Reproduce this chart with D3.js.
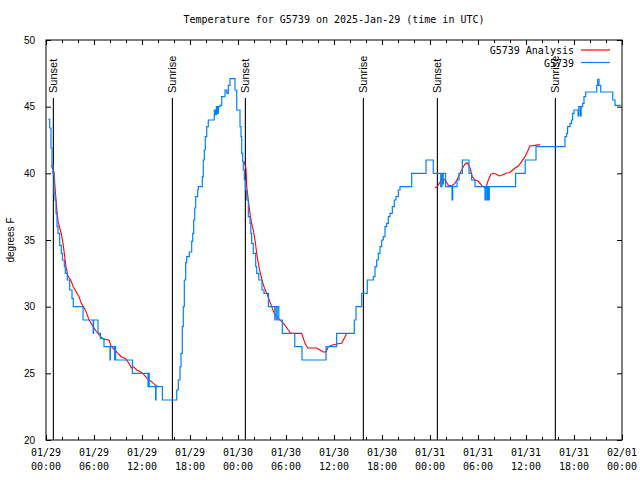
<!DOCTYPE html>
<html>
<head>
<meta charset="utf-8">
<script src="https://cdnjs.cloudflare.com/ajax/libs/d3/7.8.5/d3.min.js"></script>
<style>
  body { margin: 0; background: #fff; }
  svg { display: block; }
</style>
</head>
<body>
<svg id="chart"></svg>
<script>
const svg = d3.select("#chart")
    .attr("width", 640)
    .attr("height", 480);

const startTime = Date.UTC(2025, 0, 29, 0, 0);
const hourMs = 3600 * 1000;

// observations: [hours since 01/29 00:00 UTC, deg F]
const obsData = [
    [0.29,44.05],[0.46,43.4],[0.625,41.9],[0.75,40.6],[0.875,40],[1.0,38.5],[1.125,38],[1.25,37],[1.375,36],
    [1.5,35.5],[1.71,34.6],[1.91,34],[2.06,33.5],[2.29,33],[2.41,32.5],[2.66,32],[2.96,31.25],[3.25,30.6],
    [3.41,30],[4.625,29],[5.9,28],[5.95,29],[6.5,28],[6.8,27.6],[7.25,27],[8.0,26],[8.05,27],[8.58,26],
    [8.63,27],[8.7,26],[10.8,25],[12.75,24],[12.8,25],[12.9,24],[13.7,23],[13.75,24],[14.55,23],
    [16.34,23.75],[16.54,24.5],[16.75,25.5],[16.875,26.5],[17.04,28.5],[17.16,30],[17.29,32],[17.46,33.3],
    [17.59,33.75],[17.91,34.1],[18.21,34.9],[18.34,35.5],[18.46,36.5],[18.59,37.4],[18.71,38.25],
    [18.96,38.75],[19.04,39],[19.54,39.75],[19.66,41],[19.79,41.75],[19.91,42.75],[20.09,43.5],[20.29,44],
    [21.04,44.75],[21.2,44.4],[21.3,45],[21.45,44.5],[21.55,45],[21.75,45.1],[21.96,45.75],[22.375,46.25],
    [22.6,46],[22.79,46.6],[23.0,47.1],[23.625,46.25],[23.84,44.75],[24.25,43.5],[24.375,42.75],
    [24.46,41.5],[24.59,40.9],[24.66,40.25],[24.79,39.5],[24.92,38.75],[25.09,38],[25.29,36.75],
    [25.5,36.25],[25.6,35.5],[25.71,34.75],[25.91,34],[26.21,33],[26.34,32.5],[26.6,32],[27.0,31.25],
    [27.25,31],[27.8,30],[28.6,29],[28.65,30],[28.85,29],[28.9,30],[29.1,29],[29.54,28],[31.1,27],[32,26],
    [35,27],[36.33,28],[38.54,29],[38.75,30],[39.46,31],[40.16,32],[40.92,32.25],[41.125,33],[41.33,33.5],
    [41.54,34],[41.75,34.5],[41.96,35],[42.16,35.25],[42.375,36],[42.58,36.25],[42.79,36.75],[43.0,37],
    [43.29,37.5],[43.54,38],[43.75,38.25],[44.04,38.75],[44.25,39],[45.71,40],[47.5,41],[48.41,40],
    [49.34,39],[49.5,40],[49.58,39.2],[49.66,40],[49.96,39],[50.75,38],[50.84,39],[51.375,39.5],
    [51.625,40],[52.04,41],[52.875,40],[53.2,39.5],[53.625,39],[54.875,38],[54.96,39],[55.125,38],
    [55.2,39],[55.3,38],[55.41,39],[58.7,40],[59.9,41],[61.25,42],[64.875,42.75],[65.08,43],[65.2,43.5],
    [65.5,43.75],[65.7,44],[65.83,44.5],[66.0,44.75],[66.5,44.3],[66.6,45],[66.8,44.3],[66.9,45],
    [67.08,45.25],[67.25,45.75],[67.46,46.1],[68.84,46.6],[68.96,47.05],[69.125,46.6],[69.34,46.1],
    [70.84,45.5],[71.125,45.1],[71.85,45.1]
];

// analysis, null = gap between runs
const analysisData = [
    [0.66,40.6],[1.0,40.1],[1.125,39],[1.29,37.75],[1.5,36.4],[1.71,35.9],[1.91,35.5],[2.125,34.75],
    [2.34,33.75],[2.5,33],[2.75,32.3],[3.09,32],[3.41,31.5],[3.79,31.1],[4.125,30.75],[4.41,30.25],
    [4.75,29.95],[5.09,29.5],[5.375,29],[5.79,28.6],[6.34,28.1],[6.84,27.75],[7.25,27.55],[7.875,27.5],
    [8.09,27.1],[8.5,26.8],[8.91,26.55],[9.41,26.25],[9.96,26.1],[10.375,25.75],[10.66,25.4],[10.91,25.5],
    [11.34,25.25],[11.84,25.1],[12.25,24.9],[12.66,24.6],[13.16,24.4],[13.71,24.1],[13.91,24.05],
    null,
    [24.75,40.9],[25.0,40.4],[25.09,39],[25.29,38],[25.5,37],[25.71,36.25],[25.91,35.75],[26.125,35],
    [26.34,34],[26.54,33.25],[26.75,32.6],[27.0,32],[27.25,31.5],[27.59,31],[27.91,30.5],[28.21,30],
    [28.54,29.5],[29.04,29.1],[29.46,28.9],[29.875,28.6],[30.29,28.25],[30.59,28],[31.96,28],[32.375,27.25],
    [32.71,26.9],[33.84,26.9],[34.25,26.75],[34.66,26.6],[35.0,26.6],[35.29,27],[35.71,27.1],[36.34,27.2],
    [36.96,27.25],[37.25,27.6],[37.59,28],
    null,
    [48.625,38.9],[48.91,39],[49.16,39.25],[49.46,39.55],[49.75,39.55],[50.0,39.4],[50.29,39.1],
    [50.71,39.05],[51.125,39.25],[51.41,39.55],[51.75,40],[52.09,40.4],[52.375,40.7],[52.66,40.8],
    [53.0,40.4],[53.29,39.75],[53.625,39.5],[54.04,39.4],[54.46,39.1],[54.875,38.9],[55.09,39.1],
    [55.29,39.5],[55.59,39.9],[55.84,40],[56.25,39.95],[56.66,39.8],[57.09,39.9],[57.5,40],[57.91,40.05],
    [58.34,40.25],[58.625,40.4],[59.04,40.55],[59.46,40.9],[59.875,41.25],[60.16,41.6],[60.5,42.05],
    [61.125,42.1],[61.75,42.15]
];

const sunEvents = ["Sunset", "Sunrise", "Sunset", "Sunrise", "Sunset", "Sunrise"];
const sunHours = [0.92, 15.8, 24.92, 39.67, 48.92, 63.67];

const yTicks = [20, 25, 30, 35, 40, 45, 50];
const seriesNames = ["G5739 Analysis", "G5739"];
const seriesColors = ["#ff0000", "#0080ff"];

const plotLeft = 46, plotRight = 622, plotTop = 40, plotBottom = 440;
const toDate = h => new Date(startTime + h * hourMs);

const x = d3.scaleUtc()
    .domain([toDate(0), toDate(72)])
    .range([plotLeft, plotRight]);
const y = d3.scaleLinear()
    .domain([20, 50])
    .range([plotBottom, plotTop]);

const mono = "'DejaVu Sans Mono', monospace";
const sans = "'Liberation Sans', Arial, sans-serif";

// title
svg.append("text")
    .attr("x", 334)
    .attr("y", 23)
    .attr("text-anchor", "middle")
    .style("font-family", mono)
    .style("font-size", "10px")
    .text("Temperature for G5739 on 2025-Jan-29 (time in UTC)");

const majorTicks = d3.range(0, 73, 6).map(toDate);
const minorTicks = d3.range(0, 73, 2).filter(h => h % 6 != 0).map(toDate);

function styleAxis(g) {
    g.select(".domain").remove();
    g.selectAll("line").attr("stroke", "black").attr("stroke-width", 1);
}

// bottom / top axes
svg.append("g")
    .attr("transform", `translate(0,${plotBottom})`)
    .call(d3.axisBottom(x).tickValues(majorTicks).tickSizeInner(-5).tickSizeOuter(0).tickFormat(""))
    .call(styleAxis);
svg.append("g")
    .attr("transform", `translate(0,${plotBottom})`)
    .call(d3.axisBottom(x).tickValues(minorTicks).tickSizeInner(-3).tickSizeOuter(0).tickFormat(""))
    .call(styleAxis);
svg.append("g")
    .attr("transform", `translate(0,${plotTop})`)
    .call(d3.axisTop(x).tickValues(majorTicks).tickSizeInner(-5).tickSizeOuter(0).tickFormat(""))
    .call(styleAxis);
svg.append("g")
    .attr("transform", `translate(0,${plotTop})`)
    .call(d3.axisTop(x).tickValues(minorTicks).tickSizeInner(-3).tickSizeOuter(0).tickFormat(""))
    .call(styleAxis);

// two-line time labels
const fmtDay = d3.utcFormat("%m/%d");
const fmtTime = d3.utcFormat("%H:%M");
const xLabels = svg.append("g")
    .style("font-family", mono)
    .style("font-size", "10px")
    .attr("text-anchor", "middle");
majorTicks.forEach(d => {
    const t = xLabels.append("text").attr("x", x(d)).attr("y", 456);
    t.append("tspan").attr("x", x(d)).text(fmtDay(d));
    t.append("tspan").attr("x", x(d)).attr("dy", 14).text(fmtTime(d));
});

// left / right axes
svg.append("g")
    .attr("transform", `translate(${plotLeft},0)`)
    .call(d3.axisLeft(y).tickValues(yTicks).tickSizeInner(-5).tickSizeOuter(0).tickPadding(11))
    .call(styleAxis)
    .selectAll("text")
    .style("font-family", sans)
    .style("font-size", "10px");
svg.append("g")
    .attr("transform", `translate(${plotRight},0)`)
    .call(d3.axisRight(y).tickValues(yTicks).tickSizeInner(-5).tickSizeOuter(0).tickFormat(""))
    .call(styleAxis);

svg.append("text")
    .attr("transform", "translate(14,240) rotate(-90)")
    .attr("text-anchor", "middle")
    .style("font-family", sans)
    .style("font-size", "10px")
    .text("degrees F");

// sunrise / sunset markers
sunHours.forEach((h, i) => {
    const sx = x(toDate(h));
    svg.append("line")
        .attr("x1", sx).attr("x2", sx)
        .attr("y1", 98).attr("y2", plotBottom)
        .attr("stroke", "black")
        .attr("stroke-width", 1.1);
    svg.append("text")
        .attr("transform", `translate(${sx + 4},93) rotate(-90)`)
        .style("font-family", sans)
        .style("font-size", "11px")
        .text(sunEvents[i]);
});

// series
const obsLine = d3.line()
    .x(d => x(toDate(d[0])))
    .y(d => y(d[1]))
    .curve(d3.curveStepAfter);

const anaLine = d3.line()
    .defined(d => d != null)
    .x(d => x(toDate(d[0])))
    .y(d => y(d[1]));

svg.append("path")
    .datum(analysisData)
    .attr("d", anaLine)
    .attr("fill", "none")
    .attr("stroke", seriesColors[0])
    .attr("stroke-width", 1.1);

svg.append("path")
    .datum(obsData)
    .attr("d", obsLine)
    .attr("fill", "none")
    .attr("stroke", seriesColors[1])
    .attr("stroke-width", 1.2);

// legend
seriesNames.forEach((name, i) => {
    const ly = 50 + i * 12.5;
    svg.append("text")
        .attr("x", 574)
        .attr("y", ly + 4)
        .attr("text-anchor", "end")
        .style("font-family", mono)
        .style("font-size", "10px")
        .text(name);
    svg.append("line")
        .attr("x1", 581).attr("x2", 610)
        .attr("y1", ly).attr("y2", ly)
        .attr("stroke", seriesColors[i])
        .attr("stroke-width", 1.2);
});

// frame
svg.append("rect")
    .attr("x", plotLeft)
    .attr("y", plotTop)
    .attr("width", plotRight - plotLeft)
    .attr("height", plotBottom - plotTop)
    .attr("fill", "none")
    .attr("stroke", "black")
    .attr("stroke-width", 1);
</script>
</body>
</html>
